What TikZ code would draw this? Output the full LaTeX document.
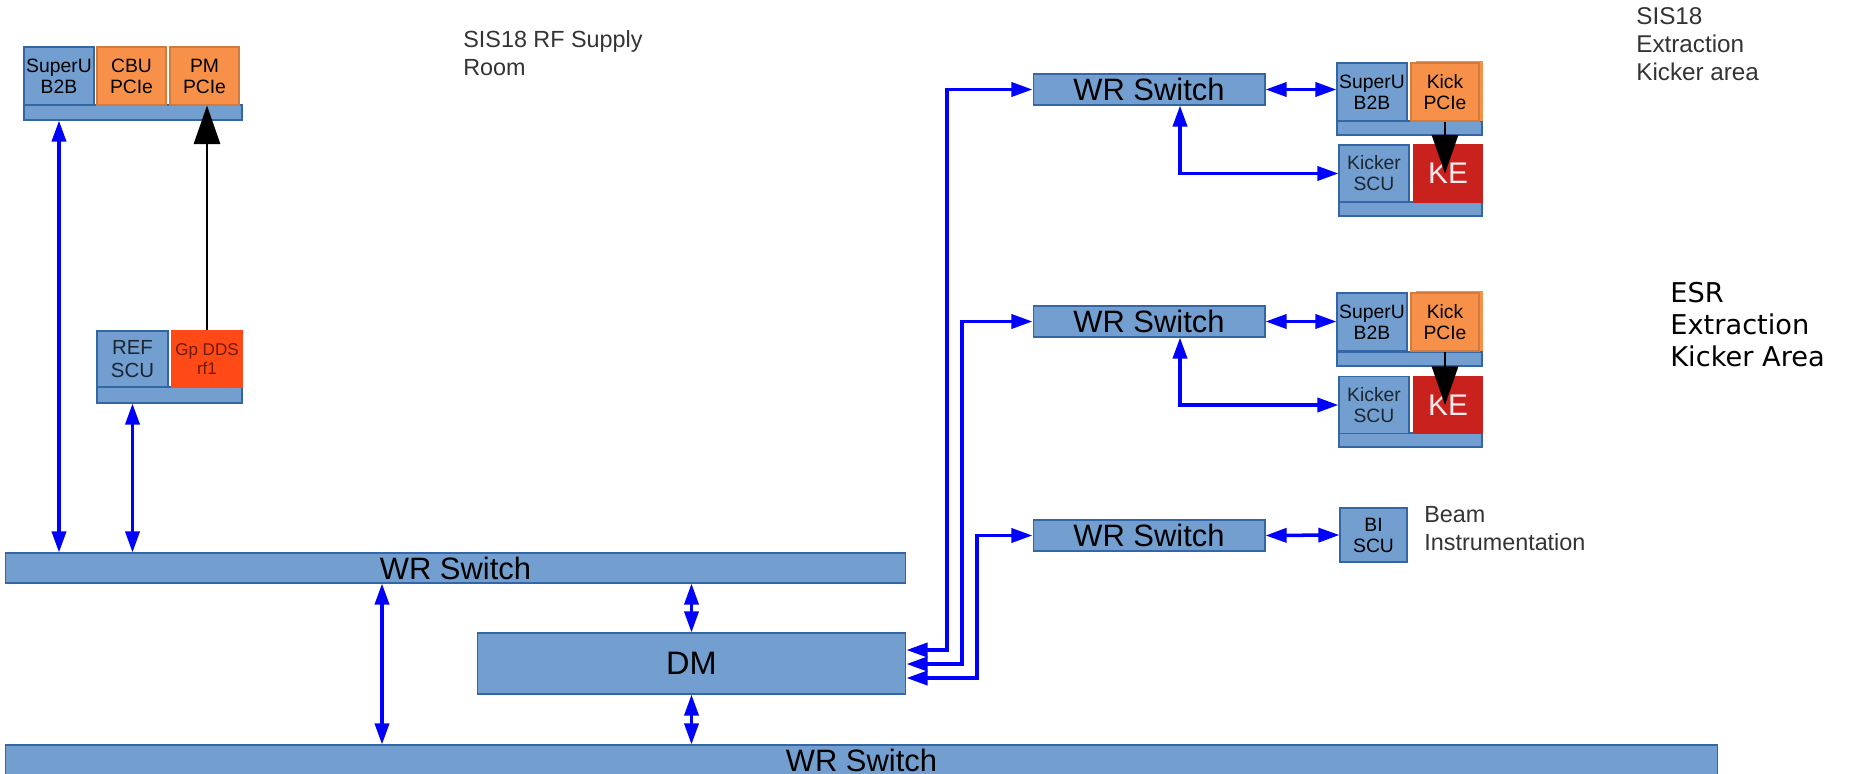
\documentclass[tikz,border=0pt]{standalone}
\usepackage{fontspec}
\setmainfont{Liberation Sans}
\newfontfamily\dejavu{DejaVu Sans}
\usetikzlibrary{arrows.meta}
\definecolor{wrblue}{HTML}{729FCF}
\definecolor{wrline}{HTML}{3465A4}
\definecolor{pcie}{HTML}{F7914A}
\definecolor{ddsred}{HTML}{FF4A17}
\definecolor{ddstext}{HTML}{6E1A05}
\definecolor{kered}{HTML}{C9211E}
\definecolor{areagray}{HTML}{333333}
\definecolor{scutext}{HTML}{1C2633}
\tikzset{
  box/.style={draw=wrline,line width=.6pt,fill=wrblue,inner sep=0pt,align=center,
    font=\fontsize{11}{12}\selectfont},
  modbox/.style={box,minimum width=1.4cm,minimum height=1.16cm},
  pciebox/.style={modbox,fill=pcie,draw=pcie!85!black},
  railbox/.style={box,minimum height=.28cm},
  wrsw/.style={box,font=\fontsize{17.6}{20}\selectfont},
  area/.style={align=left,inner sep=0pt,anchor=west,text=areagray,
    font=\fontsize{13.3}{15.9}\selectfont},
  link/.style={draw=blue,line width=2pt,
    {Triangle[width=8pt,length=12pt]}-{Triangle[width=8pt,length=12pt]}},
  trig/.style={draw=black,line width=1.1pt,-{Triangle[width=15pt,length=22pt]}},
}
\begin{document}
\begin{tikzpicture}[x=0.02cm,y=-0.02cm]
  \useasboundingbox (0,0) rectangle (1854,774);
  % SIS18 RF supply room
  \node[railbox,minimum width=4.36cm,minimum height=.3cm] (railRF) at (133,112.5) {};
  \node[modbox] (suRF) at (59,76) {SuperU\\B2B};
  \node[pciebox,minimum width=1.38cm] (cbu) at (131.5,76) {CBU\\PCIe};
  \node[pciebox,minimum width=1.38cm] (pm) at (204.5,76) {PM\\PCIe};
  \node[railbox,minimum width=2.9cm,minimum height=.32cm] (railREF) at (169.5,395) {};
  \node[modbox,minimum width=1.42cm,minimum height=1.12cm,text=scutext,
    font=\fontsize{11.6}{12.8}\selectfont] (ref) at (132.5,359) {REF\\SCU};
  \node[modbox,minimum height=1.12cm,fill=ddsred,draw=ddsred,text=ddstext,
    font=\fontsize{9.7}{10.6}\selectfont] (dds) at (207,359) {Gp DDS\\rf1};
  \node[area] (rfroom) at (463,53) {SIS18 RF Supply\\Room};
  % central switches and DM
  \node[wrsw,minimum width=18.02cm,minimum height=.6cm] (sw1) at (455.5,568) {WR Switch};
  \node[wrsw,minimum width=8.58cm,minimum height=1.22cm,
    font=\fontsize{18.5}{20}\selectfont] (dm) at (691.5,663.5) {DM};
  \node[wrsw,minimum width=34.26cm,minimum height=.6cm] (sw2) at (861.5,760) {WR Switch};
  % ring switches
  \node[wrsw,minimum width=4.64cm,minimum height=.62cm] (swA) at (1149,89.5) {WR Switch};
  \node[wrsw,minimum width=4.64cm,minimum height=.62cm] (swB) at (1149,321.5) {WR Switch};
  \node[wrsw,minimum width=4.64cm,minimum height=.62cm] (swC) at (1149,535.5) {WR Switch};
  % SIS18 extraction kicker
  \node[railbox,minimum width=2.9cm] (railA1) at (1409.5,128) {};
  \fill[pcie] (1416,61) rectangle (1483,121);
  \node[modbox] (suA) at (1372,92) {SuperU\\B2B};
  \node[pciebox,minimum width=1.36cm] (kickA) at (1445,92) {Kick\\PCIe};
  \node[railbox,minimum width=2.86cm] (railA2) at (1410.5,209) {};
  \node[modbox,minimum height=1.14cm,text=scutext] (kscuA) at (1374,173.5) {Kicker\\SCU};
  \node[modbox,minimum width=1.36cm,minimum height=1.14cm,fill=kered,draw=kered,
    text=white!92!red,font=\fontsize{17}{18}\selectfont] (keA) at (1448,173.5) {KE};
  \node[area,font=\fontsize{13.8}{15.9}\selectfont] (sisarea) at (1636,44)
    {SIS18\\Extraction\\Kicker area};
  % ESR extraction kicker
  \node[railbox,minimum width=2.9cm] (railB1) at (1409.5,359) {};
  \fill[pcie] (1416,291) rectangle (1483,351);
  \node[modbox] (suB) at (1372,322) {SuperU\\B2B};
  \node[pciebox,minimum width=1.36cm] (kickB) at (1445,322) {Kick\\PCIe};
  \node[railbox,minimum width=2.86cm] (railB2) at (1410.5,440) {};
  \node[modbox,minimum height=1.14cm,text=scutext] (kscuB) at (1374,405) {Kicker\\SCU};
  \node[modbox,minimum width=1.36cm,minimum height=1.14cm,fill=kered,draw=kered,
    text=white!92!red,font=\fontsize{17}{18}\selectfont] (keB) at (1448,405) {KE};
  \node[area,text=black,font=\dejavu\fontsize{15.5}{18.2}\selectfont] (esrarea) at (1670,325)
    {ESR\\Extraction\\Kicker Area};
  % beam instrumentation
  \node[modbox,minimum width=1.34cm,minimum height=1.08cm] (bi) at (1373.5,535) {BI\\SCU};
  \node[area] (biarea) at (1424,529) {Beam\\Instrumentation};
  % turn points
  \coordinate (mid) at (382,0);
  \coordinate (dA) at (947,650);
  \coordinate (dB) at (962,664);
  \coordinate (dC) at (977,678);
  \coordinate (kA) at (1180,173.5);
  \coordinate (kB) at (1180,405);
  % white rabbit links
  \draw[link] (railRF.south -| suRF) -- (sw1.north -| suRF);
  \draw[link] (railREF.south -| ref) -- (sw1.north -| ref);
  \draw[link] (sw1.south -| mid) -- (sw2.north -| mid);
  \draw[link] (sw1.south -| dm) -- (dm.north);
  \draw[link] (dm.south) -- (sw2.north -| dm);
  \draw[link] (dm.east |- dA) -- (dA) |- (swA.west);
  \draw[link] (dm.east |- dB) -- (dB) |- (swB.west);
  \draw[link] (dm.east |- dC) -- (dC) |- (swC.west);
  \draw[link] (swA.east) -- (swA.east -| suA.west);
  \draw[link] (swA.south -| kA) -- (kA) -- (kscuA.west);
  \draw[link] (swB.east) -- (swB.east -| suB.west);
  \draw[link] (swB.south -| kB) -- (kB) -- (kscuB.west);
  \draw[link] (swC.east) -- (bi.west);
  % trigger lines
  \draw[trig] (dds.north) -- (dds.north |- pm.south);
  \draw[trig] (kickA.south) -- (kickA.south |- keA.center);
  \draw[trig] (kickB.south) -- (kickB.south |- keB.center);
\end{tikzpicture}
\end{document}
